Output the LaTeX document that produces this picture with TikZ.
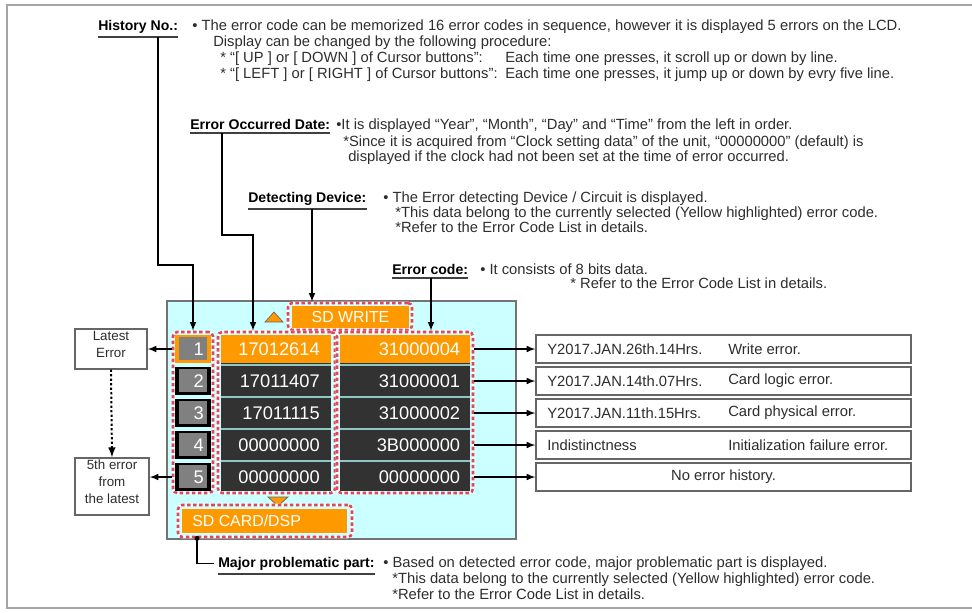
\documentclass[tikz,border=0pt]{standalone}
\usepackage{fontspec}
\setmainfont{Liberation Sans}
\usetikzlibrary{positioning,fit}
\definecolor{lcdorange}{RGB}{255,153,0}
\definecolor{lcdcyan}{RGB}{204,255,255}
\definecolor{celldark}{RGB}{50,50,50}
\definecolor{keygray}{RGB}{128,128,128}
\definecolor{dashred}{RGB}{225,70,90}
\definecolor{septeal}{RGB}{140,200,200}
\definecolor{textgray}{RGB}{45,45,45}
\definecolor{framegray}{RGB}{165,165,165}
\tikzset{
  txt/.style={inner sep=0pt, anchor=base west, text=textgray, font=\fontsize{10.5}{12}\selectfont},
  lbl/.style={inner sep=0pt, anchor=base west, font=\fontsize{10}{12}\selectfont\bfseries},
  uline/.style={line width=1.2pt, black!75},
  link/.style={->, line width=1.1pt},
  grp/.style={inner sep=0pt, rounded corners=3pt, draw=white, line width=1.8pt,
    postaction={draw=dashred, dash pattern=on 2.5pt off 1.8pt, line width=1.8pt}},
  cellbox/.style={inner sep=0pt, fill=#1},
  lcdtxt/.style={inner sep=0pt, text=white, font=\fontsize{13}{13}\selectfont},
  sidebox/.style={draw=black!60, line width=1pt, fill=white, align=center, inner sep=0pt,
    text=textgray, font=\fontsize{9.5}{12}\selectfont},
  descbox/.style={draw=black!60, line width=1pt, fill=white, inner sep=0pt},
}
\begin{document}
\begin{tikzpicture}[x=0.025cm, y=-0.025cm, >=latex]
\useasboundingbox (0,0) rectangle (972,612);
\draw[framegray, line width=1pt] (972,5) -- (7,5) -- (7,608) -- (972,608);

\node[lbl] (histlbl) at (98,30) {History No.:};
\node[txt] (h1) at (192,30) {• The error code can be memorized 16 error codes in sequence, however it is displayed 5 errors on the LCD.};
\node[txt] (h2) at (213,46) {Display can be changed by the following procedure:};
\node[txt] (h3) at (220,62) {* “[ UP ] or [ DOWN ] of Cursor buttons”:};
\node[txt] (h3b) at (505,62) {Each time one presses, it scroll up or down by line.};
\node[txt] (h4) at (220,78) {* “[ LEFT ] or [ RIGHT ] of Cursor buttons”:};
\node[txt] (h4b) at (505,78) {Each time one presses, it jump up or down by evry five line.};

\node[lbl] (datelbl) at (190,129) {Error Occurred Date:};
\node[txt] (e1) at (336,129) {•It is displayed “Year”, “Month”, “Day” and “Time” from the left in order.};
\node[txt] (e2) at (343,146) {*Since it is acquired from “Clock setting data” of the unit, “00000000” (default) is};
\node[txt] (e3) at (348,161) {displayed if the clock had not been set at the time of error occurred.};

\node[lbl] (devlbl) at (248,202) {Detecting Device:};
\node[txt] (d1) at (383,202) {• The Error detecting Device / Circuit is displayed.};
\node[txt] (d2) at (395,217) {*This data belong to the currently selected (Yellow highlighted) error code.};
\node[txt] (d3) at (395,232) {*Refer to the Error Code List in details.};

\node[lbl] (codelbl) at (392,274) {Error code:};
\node[txt] (c1) at (480,274) {• It consists of 8 bits data.};
\node[txt] (c2) at (570,288) {* Refer to the Error Code List in details.};

\node[lbl] (majlbl) at (218,567) {Major problematic part:};
\node[txt] (m1) at (383,567) {• Based on detected error code, major problematic part is displayed.};
\node[txt] (m2) at (392,583) {*This data belong to the currently selected (Yellow highlighted) error code.};
\node[txt] (m3) at (392,599) {*Refer to the Error Code List in details.};

\node[fit={(167,301) (516,539)}, inner sep=0pt, draw=black!55, line width=1pt, fill=lcdcyan] (lcd) {};
\draw[fill=lcdorange, draw=black!60, line width=0.5pt] (265,322) -- (283,322) -- (274,312) -- cycle;
\draw[fill=lcdorange, draw=black!60, line width=0.5pt] (268,497) -- (288,497) -- (278,506) -- cycle;

\node[grp, fit={(288,303) (412,330)}] (sdwgrp) {};
\node[cellbox=lcdorange, fit={(292,306) (409,328)}] (sdw) {};
\node[lcdtxt, font=\fontsize{11.3}{12}\selectfont] at (sdw) {SD WRITE};

\node[grp, fit={(178,505) (352,537)}] (sdcgrp) {};
\node[cellbox=lcdorange, fit={(182,509) (347,533)}] (sdc) {};
\node[lcdtxt, anchor=west, font=\fontsize{11.3}{12}\selectfont] at (192,521) {SD CARD/DSP};

\node[grp, fit={(173,332) (213,493)}] (numgrp) {};
\node[grp, fit={(218,332) (335,493)}] (dategrp) {};
\node[grp, fit={(337,332) (473,493)}] (codegrp) {};
\node[cellbox=celldark, fit={(221,335) (331,491)}] (datecol) {};
\node[cellbox=celldark, fit={(340,335) (470,491)}] (codecol) {};

\foreach \i/\d/\c/\f/\k in {1/17012614/31000004/lcdorange/lcdorange,
    2/17011407/31000001/celldark/black, 3/17011115/31000002/celldark/black,
    4/00000000/3B000000/celldark/black, 5/00000000/00000000/celldark/black} {
  \pgfmathsetmacro{\t}{335+32*(\i-1)}
  \pgfmathsetmacro{\b}{\t+28}
  \pgfmathsetmacro{\m}{\t+14}
  \node[cellbox=\f, fit={(221,\t) (331,\b)}] (dt\i) {};
  \node[cellbox=\f, fit={(340,\t) (470,\b)}] (cd\i) {};
  \node[lcdtxt, anchor=east] at ([xshift=-8pt]dt\i.east) {\d};
  \node[lcdtxt, anchor=east] at ([xshift=-7pt]cd\i.east) {\c};
  \node[cellbox=\k, fit={(175,\t) (211,\b)}] (nk\i) {};
  \node[cellbox=keygray, fit={(179,{\t+2}) (207,{\b-3})}] (ng\i) {};
  \node[lcdtxt, anchor=east] at (204,\m) {\i};
  \node[descbox, fit={(536,\t) (911,\b)}] (ds\i) {};
  \draw[link] (codegrp.east |- ds\i.west) -- (ds\i.west);
}
\foreach \g in {365,397,429,461} {
  \draw[septeal, line width=0.8pt] (221,\g) -- (331,\g);
  \draw[septeal, line width=0.8pt] (340,\g) -- (470,\g);
}

\foreach \i/\a/\e in {1/Y2017.JAN.26th.14Hrs./Write error., 2/Y2017.JAN.14th.07Hrs./Card logic error.,
    3/Y2017.JAN.11th.15Hrs./Card physical error., 4/Indistinctness/Initialization failure error.} {
  \node[txt, anchor=west] at (ds\i.west -| 547,0) {\a};
  \node[txt, anchor=west] at (ds\i.west -| 728,0) {\e};
}
\node[txt, anchor=center] at (ds5) {No error history.};

\node[sidebox, fit={(75,329) (147,369)}] (latest) {Latest\\Error};
\node[sidebox, fit={(75,458) (149,515)}] (fifth) {5th error\\from\\the latest};
\draw[link] (numgrp.west |- latest.east) -- (latest.east);
\draw[link] (numgrp.west |- nk5) -- (nk5 -| fifth.east);
\draw[->, line width=1.4pt, dash pattern=on 1.6pt off 1.6pt] (latest.south) -- (fifth.north);

\foreach \n in {histlbl,datelbl,devlbl,codelbl,majlbl}
  \draw[uline] ([yshift=-2.5pt]\n.south west) -- ([yshift=-2.5pt]\n.south east);
\coordinate (hu) at ([yshift=-2.5pt]histlbl.south);
\coordinate (du) at ([yshift=-2.5pt]datelbl.south);
\coordinate (vu) at ([yshift=-2.5pt]devlbl.south);
\coordinate (cu) at ([yshift=-2.5pt]codelbl.south);
\coordinate (hbend) at (158,265);
\coordinate (dbend) at (222,235);
\coordinate (dturn) at (253,235);
\coordinate (dvx) at (312,250);
\coordinate (cdx) at (431,300);
\coordinate (mjx) at (197,550);
\draw[link] (hu -| hbend) -- (hbend) -| (numgrp.north);
\draw[link] (du -| dbend) -- (dbend) -- (dturn) -- (dturn |- dategrp.north);
\draw[link] (vu -| dvx) -- (dvx |- sdwgrp.north);
\draw[link] (cu -| cdx) -- (cdx |- codegrp.north);
\fill (sdcgrp.south -| mjx) circle (2.5);
\draw[line width=1.1pt] (sdcgrp.south -| mjx) |- ([xshift=-3pt]majlbl.west);
\end{tikzpicture}
\end{document}
